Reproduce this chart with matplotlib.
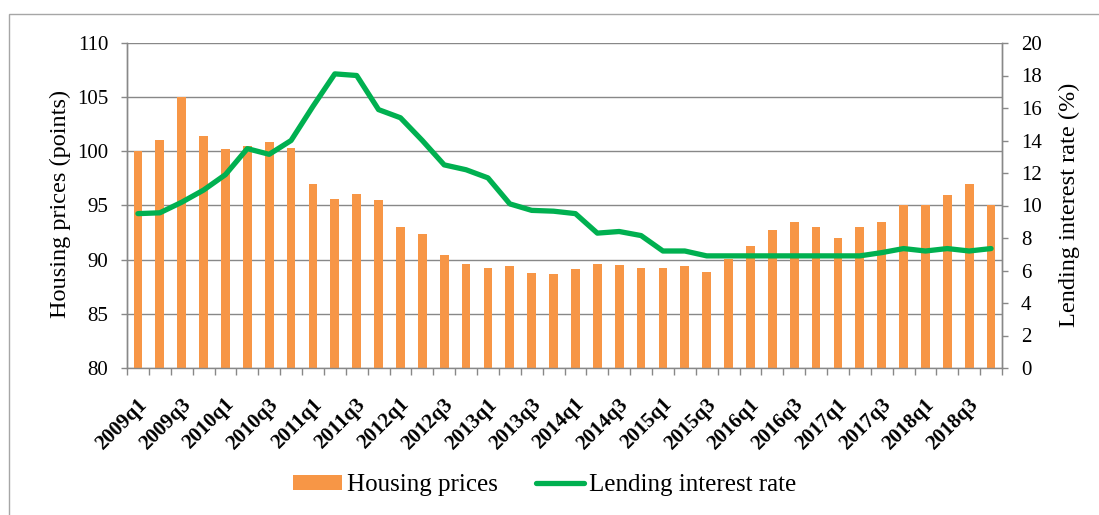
import numpy as np
import matplotlib
matplotlib.use("Agg")
import matplotlib.pyplot as plt
from matplotlib.patches import Rectangle

# quarters 2009q1 .. 2018q4
quarters = [f"{y}q{q}" for y in range(2009, 2019) for q in range(1, 5)]

# housing price index (points)
prices = [100.0, 101.0, 105.0, 101.4, 100.2, 100.5, 100.9, 100.3, 97.0, 95.6,
          96.1, 95.5, 93.0, 92.4, 90.4, 89.6, 89.2, 89.4, 88.8, 88.7,
          89.1, 89.6, 89.5, 89.2, 89.2, 89.4, 88.9, 90.1, 91.3, 92.7,
          93.5, 93.0, 92.0, 93.0, 93.5, 95.0, 95.0, 96.0, 97.0, 95.0]

# lending interest rate (%)
rates = [9.5, 9.55, 10.2, 10.95, 11.9, 13.5, 13.15, 14.0, 16.1, 18.1,
         18.0, 15.9, 15.4, 14.0, 12.5, 12.2, 11.7, 10.1, 9.7, 9.65,
         9.5, 8.3, 8.4, 8.15, 7.2, 7.2, 6.9, 6.9, 6.9, 6.9,
         6.9, 6.9, 6.9, 6.9, 7.1, 7.35, 7.2, 7.35, 7.2, 7.35]

plt.rcParams['font.family'] = ['Liberation Serif', 'DejaVu Serif']

grey = '#888888'
orange = '#F79646'
green = '#00B050'

fig = plt.figure(figsize=(10.99, 5.15), dpi=100)
ax = fig.add_axes([127 / 1099, 1 - 368 / 515, 875 / 1099, 325 / 515])
ax2 = ax.twinx()

x = np.arange(len(quarters))

# bars
bars = ax.bar(x, prices, width=0.4, color=orange, label='Housing prices', zorder=2)
ax.set_ylim(80, 110)
ax.set_yticks(np.arange(80, 111, 5))
ax.set_xlim(-0.5, len(quarters) - 0.5)
ax.yaxis.grid(True, color=grey, linewidth=1.0)
ax.set_axisbelow(True)

# line on the right axis
line, = ax2.plot(x, rates, color=green, linewidth=3.8, solid_joinstyle='round',
                 solid_capstyle='round', label='Lending interest rate')
ax2.set_ylim(0, 20)
ax2.set_yticks(np.arange(0, 21, 2))

# x ticks: marks at category edges, labels every other quarter
ax.set_xticks(np.arange(-0.5, len(quarters), 1.0))
ax.set_xticklabels([])
ax.set_xticks(x[::2] - 0.05, minor=True)
ax.set_xticklabels(quarters[::2], minor=True)
ax.tick_params(axis='x', which='major', length=5, color=grey, width=1.0)
ax.tick_params(axis='x', which='minor', length=0, pad=19, labelsize=15)
for lab in ax.get_xticklabels(minor=True):
    lab.set_rotation(45)
    lab.set_ha('right')
    lab.set_va('top')
    lab.set_rotation_mode('anchor')
    lab.set_fontweight('bold')

ax.tick_params(axis='y', length=4.5, color=grey, width=1.0, pad=9, labelsize=15)
ax2.tick_params(axis='y', length=4.5, color=grey, width=1.0, pad=9, labelsize=15)

for a in (ax, ax2):
    for s in a.spines.values():
        s.set_color(grey)
        s.set_linewidth(1.0)
    a.spines['top'].set_visible(False)
ax2.spines['bottom'].set_visible(False)

fig.text(60 / 1099, 1 - 204 / 515, 'Housing prices (points)', rotation=90,
         ha='center', va='center', fontsize=17.5)
fig.text(1069 / 1099, 1 - 205 / 515, 'Lending interest rate (%)', rotation=90,
         ha='center', va='center', fontsize=17.5)

fig.legend(handles=[bars, line], loc='center', bbox_to_anchor=(545 / 1099, 1 - 485 / 515),
           ncol=2, frameon=False, fontsize=18, handlelength=1.95, handleheight=0.55,
           handletextpad=0.2, columnspacing=1.5)

# chart area border
fig.patches.append(Rectangle((9 / 1099, -0.1), 1.2, 1.1 - 14 / 515, fill=False,
                             edgecolor='#A6A6A6', linewidth=1.0,
                             transform=fig.transFigure, figure=fig))

fig.savefig('out.png', dpi=100)
